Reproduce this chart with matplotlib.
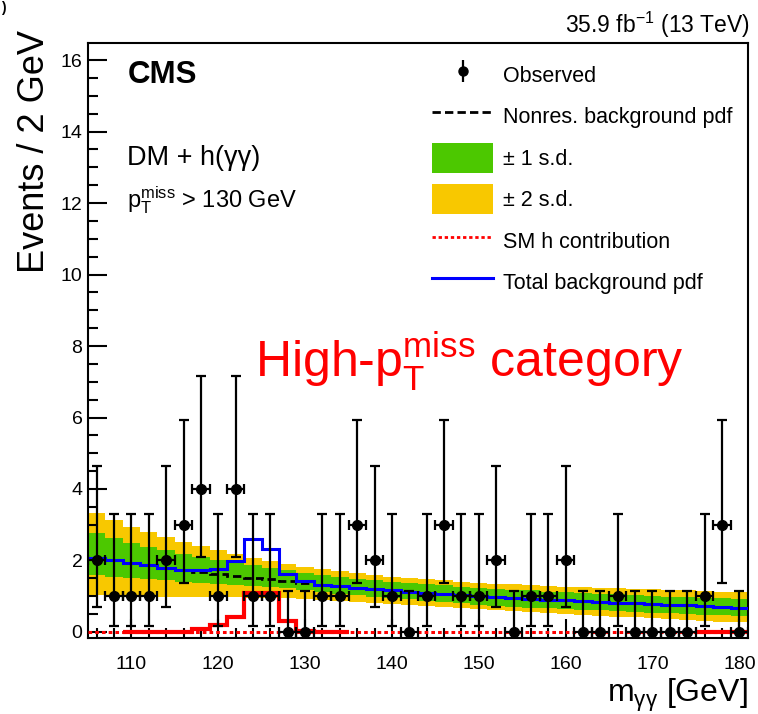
import numpy as np
import matplotlib.pyplot as plt
from matplotlib.lines import Line2D
from matplotlib.patches import Patch

plt.rcParams['font.family'] = ['Liberation Sans', 'DejaVu Sans']
plt.rcParams['mathtext.fontset'] = 'custom'
plt.rcParams['mathtext.rm'] = 'Liberation Sans'
plt.rcParams['mathtext.it'] = 'Liberation Sans:italic'
plt.rcParams['mathtext.bf'] = 'Liberation Sans:bold'

# 2 GeV bins, 105 - 181 GeV
bin_edges = np.arange(105, 182, 2)
bin_centers = 0.5 * (bin_edges[:-1] + bin_edges[1:])

observed = [2, 1, 1, 1, 2, 3, 4, 1, 4, 1, 1, 0, 0, 1, 1, 3, 2, 1, 0,
            1, 3, 1, 1, 2, 0, 1, 1, 2, 0, 0, 1, 0, 0, 0, 0, 1, 3, 0]

# Poisson interval edges for n = 0..4 events
poisson_lo = [0.0, 0.17, 0.71, 1.37, 2.09]
poisson_hi = [1.15, 3.30, 4.64, 5.92, 7.16]

nonres_bkg = [2.07, 2.00, 1.93, 1.86, 1.80, 1.74, 1.68, 1.62, 1.57, 1.52,
              1.48, 1.43, 1.37, 1.32, 1.28, 1.24, 1.20, 1.16, 1.12, 1.09,
              1.06, 1.03, 1.00, 0.97, 0.95, 0.92, 0.90, 0.88, 0.86, 0.84,
              0.82, 0.80, 0.78, 0.76, 0.74, 0.72, 0.70, 0.68]

total_bkg = [2.07, 2.00, 1.93, 1.86, 1.80, 1.74, 1.72, 1.76, 1.98, 2.60,
             2.32, 1.62, 1.42, 1.32, 1.28, 1.24, 1.20, 1.16, 1.12, 1.09,
             1.06, 1.03, 1.00, 0.97, 0.95, 0.92, 0.90, 0.88, 0.86, 0.84,
             0.82, 0.80, 0.78, 0.76, 0.74, 0.72, 0.70, 0.68]

sm_higgs = [0, 0, 0, 0, 0, 0, 0.08, 0.20, 0.42, 1.10,
            1.10, 0.30, 0.03, 0, 0, 0, 0, 0, 0, 0,
            0, 0, 0, 0, 0, 0, 0, 0, 0, 0,
            0, 0, 0, 0, 0, 0, 0, 0]

band2_hi = [3.32, 3.13, 2.95, 2.80, 2.66, 2.52, 2.40, 2.28, 2.17, 2.07,
            1.98, 1.90, 1.82, 1.75, 1.70, 1.65, 1.60, 1.55, 1.51, 1.47,
            1.44, 1.41, 1.38, 1.35, 1.33, 1.30, 1.28, 1.27, 1.25, 1.23,
            1.22, 1.20, 1.19, 1.17, 1.16, 1.14, 1.13, 1.12]
band1_hi = [2.76, 2.62, 2.49, 2.38, 2.28, 2.18, 2.09, 2.00, 1.93, 1.86,
            1.80, 1.73, 1.65, 1.58, 1.53, 1.48, 1.44, 1.40, 1.36, 1.33,
            1.30, 1.27, 1.24, 1.21, 1.18, 1.16, 1.13, 1.11, 1.09, 1.07,
            1.05, 1.03, 1.01, 0.99, 0.97, 0.96, 0.94, 0.92]
band1_lo = [1.59, 1.55, 1.51, 1.47, 1.44, 1.41, 1.38, 1.35, 1.32, 1.29,
            1.26, 1.22, 1.17, 1.12, 1.07, 1.03, 0.99, 0.95, 0.91, 0.87,
            0.84, 0.80, 0.76, 0.73, 0.71, 0.68, 0.66, 0.64, 0.62, 0.60,
            0.58, 0.56, 0.54, 0.52, 0.50, 0.48, 0.46, 0.44]
band2_lo = [1.03, 1.02, 1.01, 1.00, 0.99, 0.98, 0.97, 0.97, 0.97, 0.96,
            0.96, 0.95, 0.93, 0.90, 0.87, 0.84, 0.81, 0.78, 0.75, 0.72,
            0.69, 0.66, 0.63, 0.60, 0.58, 0.55, 0.53, 0.50, 0.48, 0.45,
            0.43, 0.41, 0.38, 0.36, 0.34, 0.31, 0.29, 0.27]

GREEN = "#4cc800"
YELLOW = "#f8c800"

W, H = 758, 714
fig = plt.figure(figsize=(W / 100, H / 100), dpi=100)
ax = fig.add_axes([88 / W, 1 - 638 / H, 660 / W, 595 / H])

def fpos(x, y):
    return x / W, 1 - y / H

# uncertainty bands
ax.stairs(band2_hi, bin_edges, baseline=band2_lo, fill=True, color=YELLOW, lw=0, zorder=1)
ax.stairs(band1_hi, bin_edges, baseline=band1_lo, fill=True, color=GREEN, lw=0, zorder=2)

# SM higgs: dotted along zero, solid histogram where it is drawn
ax.hlines(0, 105, 181, colors="red", linestyles=(0, (1.2, 1.0)), lw=2.2, zorder=3)
sm = np.array(sm_higgs)
ax.stairs(sm[2:15], bin_edges[2:16], baseline=None, color="red", lw=3.0, zorder=3)
ax.stairs(sm[35:], bin_edges[35:], baseline=None, color="red", lw=3.0, zorder=3)

ax.stairs(nonres_bkg, bin_edges, baseline=None, color="black", lw=2.0,
          linestyle=(0, (3, 1.5)), zorder=4)
ax.stairs(total_bkg, bin_edges, baseline=None, color="#0000ff", lw=2.2, zorder=5)

obs = np.array(observed)
ylo = obs - np.array([poisson_lo[n] for n in obs])
yhi = np.array([poisson_hi[n] for n in obs]) - obs
ax.errorbar(bin_centers, obs, xerr=1.0, yerr=[ylo, yhi], fmt="o", color="black",
            ms=7, elinewidth=1.6, capsize=3.5, capthick=1.6, zorder=6)

ax.set_xlim(105, 181)
ax.set_ylim(-0.17, 16.48)
ax.set_xticks(np.arange(110, 181, 10))
ax.set_xticks(np.arange(106, 181, 2), minor=True)
ax.set_yticks(np.arange(0, 17, 2))
ax.set_yticks(np.arange(0, 16.5, 0.5), minor=True)
ax.tick_params(which="both", direction="in", top=False, right=False, width=1.5,
               labelsize=14)
ax.tick_params(which="major", length=14)
ax.tick_params(which="minor", length=7)
ax.tick_params(axis="x", pad=13)
ax.tick_params(axis="y", pad=4)
for s in ax.spines.values():
    s.set_linewidth(1.5)

fig.text(*fpos(35, 30), "Events / 2 GeV", rotation=90, ha="center", va="top", fontsize=26)
fig.text(*fpos(748, 695), r"m$_{\mathrm{γγ}}$ [GeV]", ha="right", va="center", fontsize=23)

fig.text(*fpos(128, 75), "CMS", fontsize=22.5, fontweight="bold", va="center")
fig.text(*fpos(127, 158), "DM + h(γγ)", fontsize=19.5, va="center")
fig.text(*fpos(127, 200), r"p$_{\mathrm{T}}^{\mathrm{miss}}$ > 130 GeV", fontsize=17, va="center")
fig.text(*fpos(750, 25), r"35.9 fb$^{\mathrm{-1}}$ (13 TeV)", fontsize=16.5, ha="right", va="center")
fig.text(*fpos(255, 362), r"High-p$_{\mathrm{T}}^{\mathrm{miss}}$ category", fontsize=36,
         color="red", va="center")
fig.text(*fpos(1, 1), ")", fontsize=10, fontweight="bold", va="top")

# legend
obs_handle = ax.errorbar([], [], yerr=[], fmt="o", color="black", ms=6.5,
                         elinewidth=1.6, capsize=0)
handles = [
    obs_handle,
    Line2D([], [], color="black", lw=2.0, linestyle=(0, (3, 1.5))),
    Patch(facecolor=GREEN, edgecolor="none"),
    Patch(facecolor=YELLOW, edgecolor="none"),
    Line2D([], [], color="red", lw=2.0, linestyle=(0, (1.2, 1.0))),
    Line2D([], [], color="#0000ff", lw=2.2),
]
labels = ["Observed", "Nonres. background pdf", "± 1 s.d.", "± 2 s.d.",
          "SM h contribution", "Total background pdf"]
ax.legend(handles, labels, loc="upper left", bbox_to_anchor=((432 - 88) / 660, (638 - 60) / 595),
          frameon=False, fontsize=15.5, handlelength=2.84, handleheight=1.77,
          handletextpad=0.47, labelspacing=0.53, borderpad=0, borderaxespad=0)

fig.savefig("out.png", dpi=100)
